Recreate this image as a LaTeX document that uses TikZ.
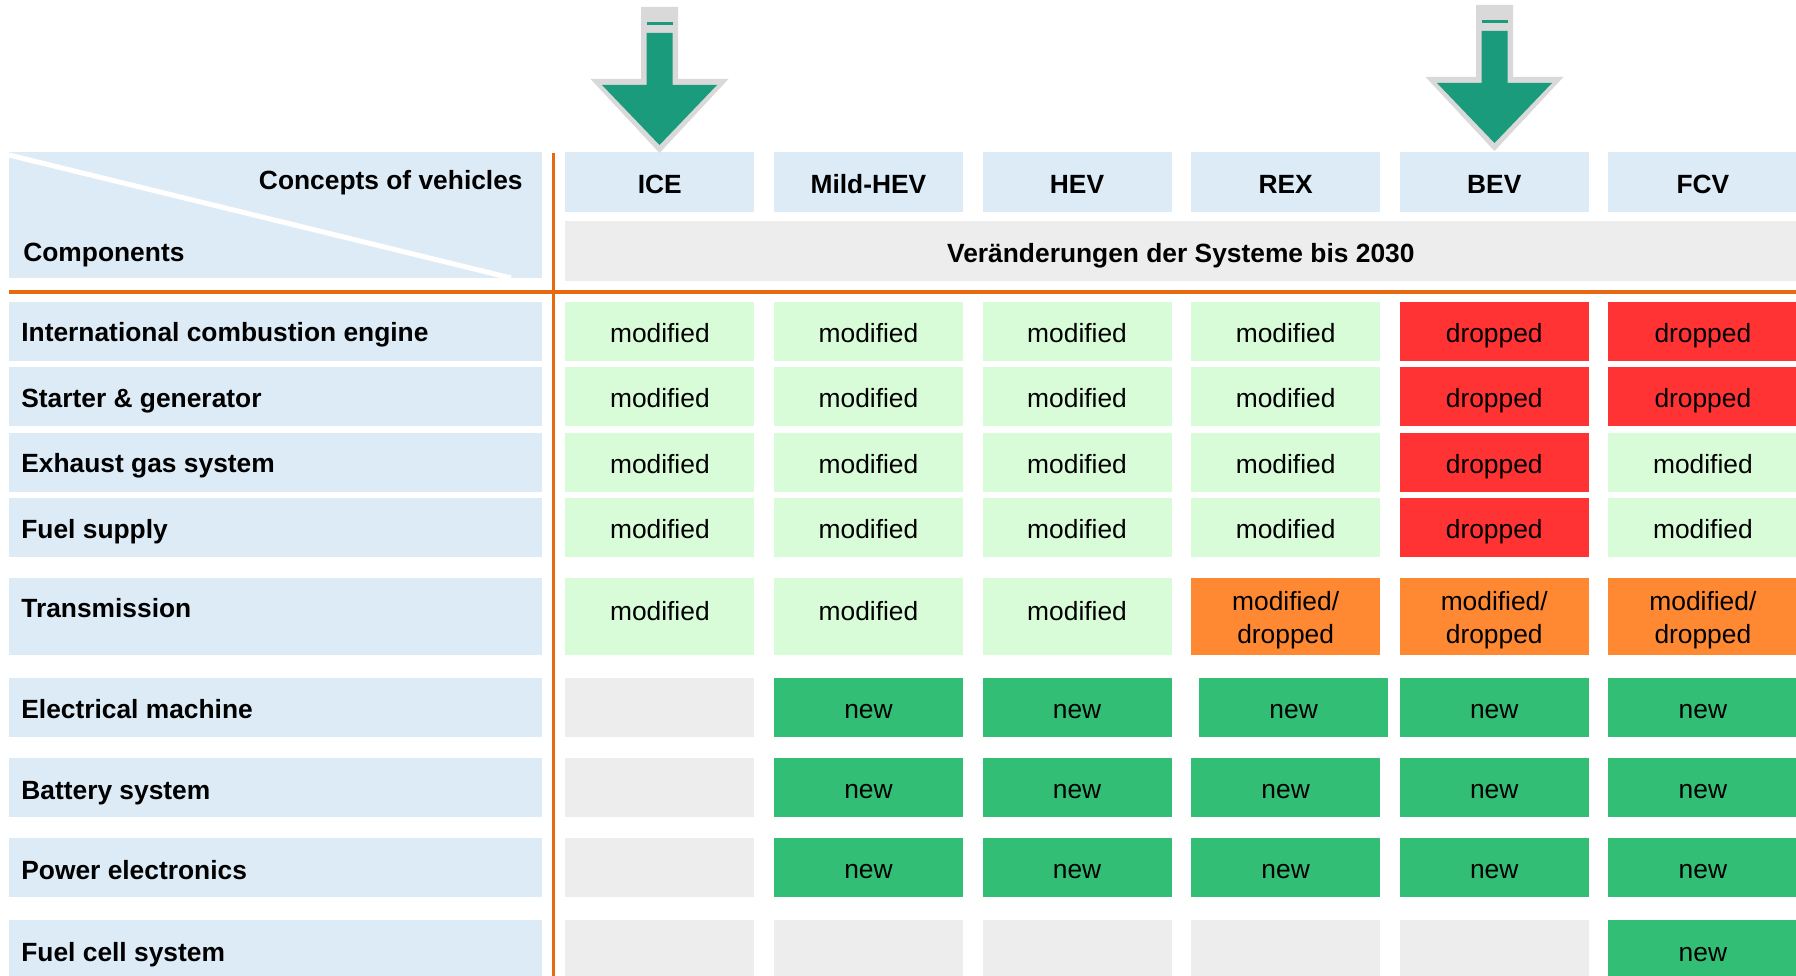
\documentclass[tikz,border=0pt]{standalone}
\usepackage{fontspec}
\setmainfont{Liberation Sans}
\usetikzlibrary{positioning}
\definecolor{hdrblue}{RGB}{221,235,247}
\definecolor{modgreen}{RGB}{216,252,216}
\definecolor{newgreen}{RGB}{51,190,117}
\definecolor{dropred}{RGB}{255,51,51}
\definecolor{mixorange}{RGB}{255,136,51}
\definecolor{nilgray}{RGB}{237,237,237}
\definecolor{ruleorange}{RGB}{232,106,16}
\definecolor{arrowgreen}{RGB}{26,156,124}
\definecolor{arrowgray}{RGB}{217,217,217}
\newcommand\cellfont{\fontsize{15}{18.8}\selectfont}
\tikzset{
  cell/.style={rectangle, anchor=north west, inner sep=0pt,
    minimum width=37.8mm, minimum height=11.8mm, font=\cellfont,
    text height=13.5pt, text depth=1pt},
  modcell/.style={cell, fill=modgreen, node contents={modified}},
  modtop/.style={modcell, text depth=3.4mm},
  dropcell/.style={cell, fill=dropred, node contents={dropped}},
  mixcell/.style={cell, fill=mixorange, align=center, text height=34pt, text depth=3.2pt,
    node contents={modified/\\dropped}},
  newcell/.style={cell, fill=newgreen, node contents={new}},
  nilcell/.style={cell, fill=nilgray, node contents={}},
  hdrbox/.style={cell, fill=hdrblue, minimum height=12mm, font=\cellfont\bfseries},
  compbox/.style={cell, fill=hdrblue, minimum width=106.6mm},
  comptext/.style={anchor=base west, inner sep=0pt, font=\cellfont\bfseries},
  rule/.style={draw=ruleorange}
}

\begin{document}
\begin{tikzpicture}[x=0.2mm, y=-0.2mm]
  \useasboundingbox (0,0) rectangle (1796,976);

  % Corner cell with the diagonal split
  \node[compbox, minimum height=25.2mm] (corner) at (9,152) {};
  \begin{scope}
    \clip (corner.north west) rectangle (corner.south east);
    \draw[white, line width=1mm] (9,155) -- (511,278);
  \end{scope}
  \node[comptext, anchor=base east] (concepts) at (523,189.5) {Concepts of vehicles};
  \node[comptext] (components) at (23,261.5) {Components};

  % Vehicle concepts
  \foreach \name [count=\col from 0] in {ICE,Mild-HEV,HEV,REX,BEV,FCV} {
    \pgfmathsetmacro\x{565+208.6*\col}
    \node[hdrbox] (hdr\col) at (\x,152) {\name};
  }
  \node[cell, fill=nilgray, minimum width=246.2mm, minimum height=12mm, font=\cellfont\bfseries]
    (banner) at (565,221) {Veränderungen der Systeme bis 2030};

  % Orange rules
  \draw[rule, line width=0.8mm] (9,292) -- (1796,292);
  \draw[rule, line width=0.6mm] (553,153) -- (553,976);

  % Components and their changes
  \foreach \row/\ytop/\hgt/\ly/\name/\kinds in {
    1/302/59/342/International combustion engine/{modcell,modcell,modcell,modcell,dropcell,dropcell},
    2/367/59/408/Starter \& generator/{modcell,modcell,modcell,modcell,dropcell,dropcell},
    3/433/59/473/Exhaust gas system/{modcell,modcell,modcell,modcell,dropcell,modcell},
    4/498/59/539/Fuel supply/{modcell,modcell,modcell,modcell,dropcell,modcell},
    5/578/77/618/Transmission/{modtop,modtop,modtop,mixcell,mixcell,mixcell},
    6/678/59/718/Electrical machine/{nilcell,newcell,newcell,newcell,newcell,newcell},
    7/758/59/799/Battery system/{nilcell,newcell,newcell,newcell,newcell,newcell},
    8/838/59/879/Power electronics/{nilcell,newcell,newcell,newcell,newcell,newcell},
    9/920/60/961/Fuel cell system/{nilcell,nilcell,nilcell,nilcell,nilcell,newcell}} {
    \node[compbox, minimum height=\hgt*0.2mm] (comp\row) at (9,\ytop) {};
    \node[comptext] (name\row) at (21,\ly) {\name};
    \foreach \kind [count=\col from 0] in \kinds {
      \pgfmathsetmacro\x{565+208.6*\col+8*and(\row==6,\col==3)}
      \node (cell\row-\col) at (\x,\ytop) [\kind, minimum height=\hgt*0.2mm];
    }
  }

  % Down arrows over ICE and BEV
  \foreach \cx/\dy in {659.5/0, 1494.5/-2} {
    \begin{scope}[shift={(0,\dy)}]
      \fill[arrowgray] ({\cx-18.5},7) -- ({\cx+18.5},7) -- ({\cx+18.5},79) -- ({\cx+69},79)
        -- (\cx,153) -- ({\cx-69},79) -- ({\cx-18.5},79) -- cycle;
      \fill[arrowgreen] ({\cx-13},33) -- ({\cx+13},33) -- ({\cx+13},85) -- ({\cx+57.5},85)
        -- (\cx,145) -- ({\cx-57.5},85) -- ({\cx-13},85) -- cycle;
      \fill[arrowgreen] ({\cx-13},22) rectangle ({\cx+13},25);
    \end{scope}
  }
\end{tikzpicture}
\end{document}
